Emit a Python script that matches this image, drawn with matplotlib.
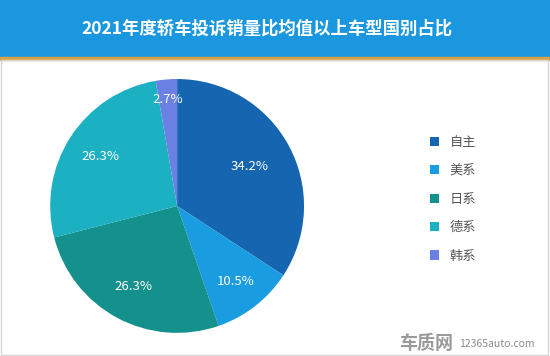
import matplotlib.pyplot as plt
from matplotlib.patches import Rectangle

plt.rcParams['font.family'] = ['Noto Sans CJK SC', 'DejaVu Sans']

# data
title = '2021年度轿车投诉销量比均值以上车型国别占比'
regions = ['自主', '美系', '日系', '德系', '韩系']
shares = [34.2, 10.5, 26.3, 26.3, 2.7]
colors = ['#1565b0', '#199ce0', '#14918c', '#1bb0c2', '#6a80e2']

fig = plt.figure(figsize=(5.5, 3.56), dpi=100)

# header bar + gold rule + light frame
fig.patches.append(Rectangle((0, 0.84), 1, 0.16, transform=fig.transFigure,
                             color='#1a97df', zorder=0))
fig.patches.append(Rectangle((0, 0.832), 1, 0.009, transform=fig.transFigure,
                             color='#d7a248', zorder=0))
fig.patches.append(Rectangle((0.002, 0.003), 0.994, 0.829, transform=fig.transFigure,
                             facecolor='none', edgecolor='#d6d6d6', lw=1, zorder=0))
fig.text(0.485, 0.92, title, color='white', fontsize=12.5, fontweight='bold',
         ha='center', va='center')

ax = fig.add_axes([0.091, 0.065, 0.462, 0.713])
wedges, texts, autotexts = ax.pie(shares, colors=colors, startangle=90,
                                  counterclock=False, autopct='%.1f%%',
                                  pctdistance=0.72,
                                  textprops=dict(color='white', fontsize=9.5))
# nudge small/large slice labels like the original
autotexts[0].set_position([p * 0.9 for p in autotexts[0].get_position()])
autotexts[1].set_position([p * 1.05 for p in autotexts[1].get_position()])
autotexts[4].set_position([p * 1.17 for p in autotexts[4].get_position()])
ax.set_xlim(-1, 1)
ax.set_ylim(-1, 1)
ax.set_aspect('equal')

# legend
leg = fig.legend(wedges, regions, loc='center left', bbox_to_anchor=(0.76, 0.44),
                 frameon=False, handlelength=0.7, handleheight=0.7,
                 labelspacing=1.17, handletextpad=0.8, fontsize=9.5)
for t in leg.get_texts():
    t.set_color('#555555')

# watermark
fig.text(0.725, 0.035, '车质网', color='#9a9a9a', fontsize=13, fontweight='bold',
         ha='left', va='center')
fig.text(0.835, 0.033, '12365auto.com', color='#8a8a8a', fontsize=7.5,
         ha='left', va='center')

fig.savefig('out.png', dpi=100)
